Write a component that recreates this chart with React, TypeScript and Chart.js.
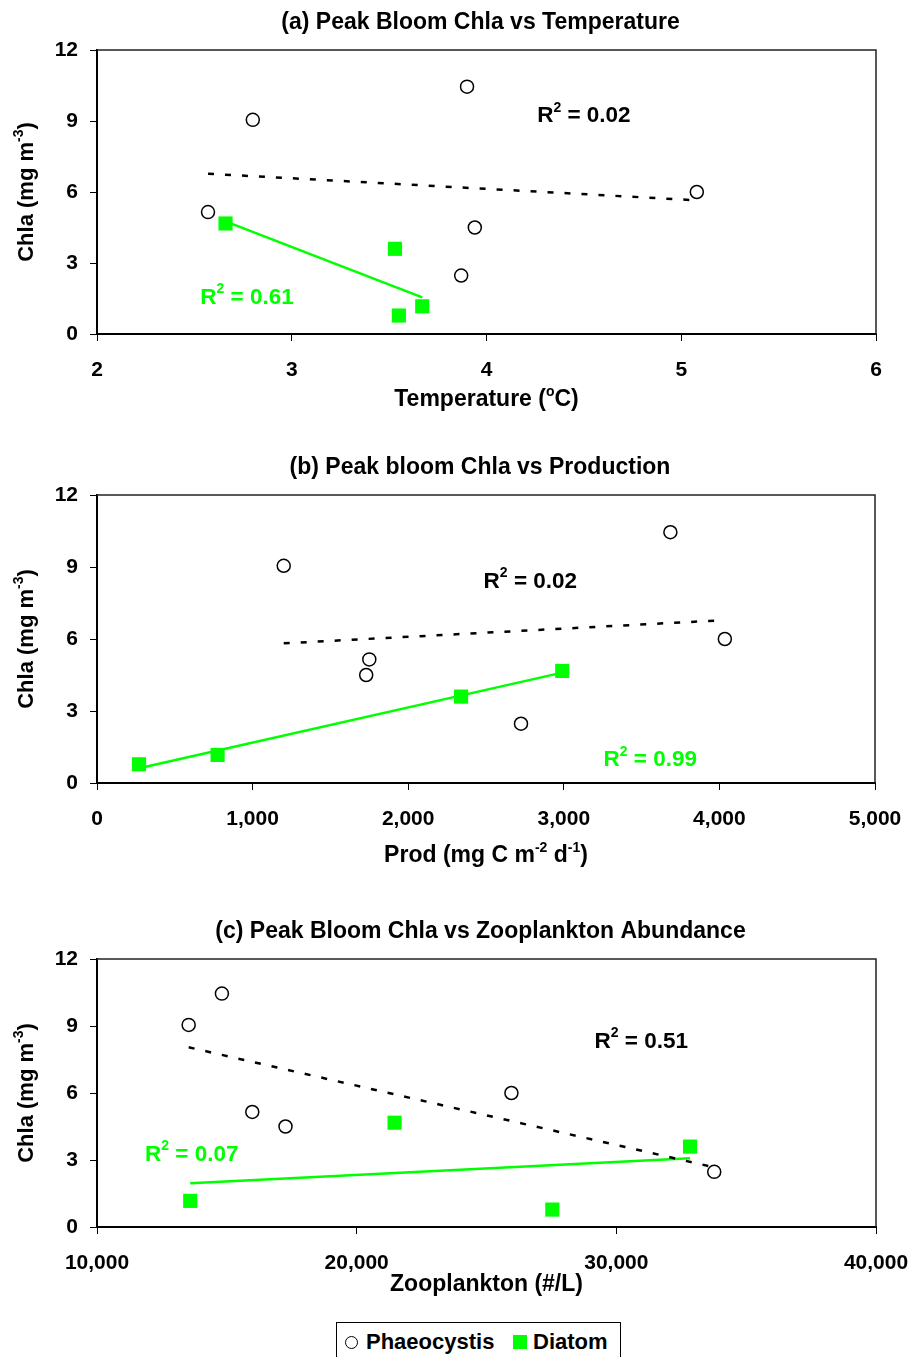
import React, { useEffect, useRef } from 'react';
import { Chart, registerables } from 'chart.js';
Chart.register(...registerables);

// ---------- data ----------
const phaeoChla = [9.05, 10.45, 5.15, 6.0, 4.5, 2.47];
const phaeoTemp = [2.8, 3.9, 2.57, 5.08, 3.94, 3.87];
const phaeoProd = [1200, 3685, 1750, 4035, 1730, 2725];
const phaeoZoo = [13530, 14810, 15980, 25960, 17260, 33770];

const diatomChla = [4.67, 3.6, 0.78, 1.17];
const diatomTemp = [2.66, 3.53, 3.55, 3.67];
const diatomProd = [2990, 2340, 270, 775];
const diatomZoo = [21460, 32840, 27535, 13590];

const yTicks = [0, 3, 6, 9, 12];
const tempTicks = [2, 3, 4, 5, 6];
const prodTicks = [0, 1000, 2000, 3000, 4000, 5000];
const zooTicks = [10000, 20000, 30000, 40000];

const r2Phaeo = ['0.02', '0.02', '0.51'];
const r2Diatom = ['0.61', '0.99', '0.07'];

const titles = [
  '(a) Peak Bloom Chla vs Temperature',
  '(b) Peak bloom Chla vs Production',
  '(c) Peak Bloom Chla vs Zooplankton Abundance',
];

// ---------- styling ----------
const FAM = '"Liberation Sans", Arial, Helvetica, sans-serif';
const GREEN = '#00FF00';

type Seg = { t: string; sup?: boolean };

function linReg(xs: number[], ys: number[]) {
  const n = xs.length;
  const mx = xs.reduce((a, b) => a + b, 0) / n;
  const my = ys.reduce((a, b) => a + b, 0) / n;
  let sxy = 0, sxx = 0;
  for (let i = 0; i < n; i++) {
    sxy += (xs[i] - mx) * (ys[i] - my);
    sxx += (xs[i] - mx) * (xs[i] - mx);
  }
  const m = sxy / sxx;
  const b = my - m * mx;
  const x0 = Math.min(...xs), x1 = Math.max(...xs);
  return [{ x: x0, y: m * x0 + b }, { x: x1, y: m * x1 + b }];
}

function drawRich(ctx: CanvasRenderingContext2D, segs: Seg[], cx: number, cy: number, size: number, color: string, rotate = false) {
  const supSize = Math.round(size * 0.62);
  const widths = segs.map((s) => {
    ctx.font = `bold ${s.sup ? supSize : size}px ${FAM}`;
    return ctx.measureText(s.t).width;
  });
  const total = widths.reduce((a, b) => a + b, 0);
  ctx.save();
  ctx.translate(cx, cy);
  if (rotate) ctx.rotate(-Math.PI / 2);
  ctx.textBaseline = 'middle';
  ctx.textAlign = 'left';
  ctx.fillStyle = color;
  let x = -total / 2;
  segs.forEach((s, i) => {
    ctx.font = `bold ${s.sup ? supSize : size}px ${FAM}`;
    ctx.fillText(s.t, x, s.sup ? -size * 0.36 : 0);
    x += widths[i];
  });
  ctx.restore();
}

type Panel = {
  top: number;
  height: number;
  plotTop: number;
  plotBottom: number;
  padRight: number;
  titleY: number;
  xTitleY: number;
  title: string;
  xTitle: Seg[];
  xPhaeo: number[];
  xDiatom: number[];
  xTicks: number[];
  r2P: string;
  r2D: string;
  r2PPos: [number, number];
  r2DPos: [number, number];
};

const panels: Panel[] = [
  {
    top: 0, height: 440, plotTop: 50, plotBottom: 334, padRight: 36, titleY: 23, xTitleY: 400,
    title: titles[0],
    xTitle: [{ t: 'Temperature (' }, { t: 'o', sup: true }, { t: 'C)' }],
    xPhaeo: phaeoTemp, xDiatom: diatomTemp, xTicks: tempTicks,
    r2P: r2Phaeo[0], r2D: r2Diatom[0], r2PPos: [4.5, 9.2], r2DPos: [2.77, 1.55],
  },
  {
    top: 440, height: 460, plotTop: 55, plotBottom: 343, padRight: 37, titleY: 28, xTitleY: 416,
    title: titles[1],
    xTitle: [{ t: 'Prod (mg C m' }, { t: '-2', sup: true }, { t: ' d' }, { t: '-1', sup: true }, { t: ')' }],
    xPhaeo: phaeoProd, xDiatom: diatomProd, xTicks: prodTicks,
    r2P: r2Phaeo[1], r2D: r2Diatom[1], r2PPos: [2785, 8.4], r2DPos: [3556, 0.95],
  },
  {
    top: 900, height: 400, plotTop: 59, plotBottom: 327, padRight: 36, titleY: 32, xTitleY: 385,
    title: titles[2],
    xTitle: [{ t: 'Zooplankton (#/L)' }],
    xPhaeo: phaeoZoo, xDiatom: diatomZoo, xTicks: zooTicks,
    r2P: r2Phaeo[2], r2D: r2Diatom[2], r2PPos: [30960, 8.3], r2DPos: [13650, 3.25],
  },
];

function PanelChart({ p }: { p: Panel }) {
  const ref = useRef<HTMLCanvasElement | null>(null);
  useEffect(() => {
    const canvas = ref.current!;
    const tickFont = { family: FAM, size: 21, weight: 'bold' as const };
    const overlay = {
      id: 'overlay',
      afterDraw(chart: any) {
        const ctx = chart.ctx as CanvasRenderingContext2D;
        const a = chart.chartArea;
        // top/right frame
        ctx.save();
        ctx.strokeStyle = '#222';
        ctx.lineWidth = 1.5;
        ctx.beginPath();
        ctx.moveTo(a.left, a.top);
        ctx.lineTo(a.right, a.top);
        ctx.lineTo(a.right, a.bottom);
        ctx.stroke();
        ctx.restore();
        const cx = (a.left + a.right) / 2;
        // title
        drawRich(ctx, [{ t: p.title }], cx - 6, p.titleY, 23, '#000');
        // x title
        drawRich(ctx, p.xTitle, cx, p.xTitleY, 23, '#000');
        // y title
        drawRich(ctx, [{ t: 'Chla (mg m' }, { t: '-3', sup: true }, { t: ')' }], 27, (a.top + a.bottom) / 2, 22, '#000', true);
        // R² labels
        const xs = chart.scales.x, ys = chart.scales.y;
        drawRich(ctx, [{ t: 'R' }, { t: '2', sup: true }, { t: ' = ' + p.r2P }],
          xs.getPixelForValue(p.r2PPos[0]), ys.getPixelForValue(p.r2PPos[1]), 22.5, '#000');
        drawRich(ctx, [{ t: 'R' }, { t: '2', sup: true }, { t: ' = ' + p.r2D }],
          xs.getPixelForValue(p.r2DPos[0]), ys.getPixelForValue(p.r2DPos[1]), 22.5, GREEN);
      },
    };
    const chart = new Chart(canvas, {
      type: 'scatter',
      data: {
        datasets: [
          {
            label: 'Phaeocystis trend',
            data: linReg(p.xPhaeo, phaeoChla),
            showLine: true,
            pointRadius: 0,
            borderColor: '#000',
            borderWidth: 2.5,
            borderDash: [6, 11],
            borderCapStyle: 'butt',
            order: 0,
          },
          {
            label: 'Diatom trend',
            data: linReg(p.xDiatom, diatomChla),
            showLine: true,
            pointRadius: 0,
            borderColor: GREEN,
            borderWidth: 2.5,
            order: 0,
          },
          {
            label: 'Phaeocystis',
            data: p.xPhaeo.map((x, i) => ({ x, y: phaeoChla[i] })),
            pointStyle: 'circle',
            pointRadius: 6.5,
            pointBackgroundColor: '#fff',
            pointBorderColor: '#000',
            pointBorderWidth: 1.5,
            order: 1,
          },
          {
            label: 'Diatom',
            data: p.xDiatom.map((x, i) => ({ x, y: diatomChla[i] })),
            pointStyle: 'rect',
            pointRadius: 10,
            pointBackgroundColor: GREEN,
            pointBorderColor: GREEN,
            pointBorderWidth: 0,
            order: 1,
          },
        ],
      },
      options: {
        responsive: false,
        animation: false,
        events: [],
        layout: { padding: { left: 0, right: p.padRight, top: p.plotTop, bottom: 0 } },
        plugins: { legend: { display: false }, tooltip: { enabled: false }, title: { display: false } },
        scales: {
          x: {
            type: 'linear',
            min: p.xTicks[0],
            max: p.xTicks[p.xTicks.length - 1],
            afterFit: (s: any) => {
              s.height = p.height - p.plotBottom;
              s.paddingLeft = 0;
              s.paddingRight = 0;
            },
            afterBuildTicks: (s: any) => { s.ticks = p.xTicks.map((v) => ({ value: v })); },
            grid: { display: true, drawOnChartArea: false, drawTicks: true, tickLength: 7, color: '#000', lineWidth: 1 },
            border: { display: true, color: '#000', width: 2 },
            ticks: {
              font: tickFont, color: '#000', padding: 17, maxRotation: 0, autoSkip: false,
              callback: (v: any) => Number(v).toLocaleString('en-US'),
            },
          },
          y: {
            type: 'linear',
            min: yTicks[0],
            max: yTicks[yTicks.length - 1],
            afterFit: (s: any) => {
              s.width = 97;
              s.paddingTop = 0;
              s.paddingBottom = 0;
            },
            afterBuildTicks: (s: any) => { s.ticks = yTicks.map((v) => ({ value: v })); },
            grid: { display: true, drawOnChartArea: false, drawTicks: true, tickLength: 7, color: '#000', lineWidth: 1 },
            border: { display: true, color: '#000', width: 2 },
            ticks: { font: tickFont, color: '#000', padding: 12 },
          },
        },
      },
      plugins: [overlay],
    } as any);
    return () => chart.destroy();
  }, [p]);
  return (
    <canvas
      ref={ref}
      width={912}
      height={p.height}
      style={{ position: 'absolute', left: 0, top: p.top, width: 912, height: p.height, display: 'block' }}
    />
  );
}

export default function App() {
  const txt: React.CSSProperties = {
    position: 'absolute', top: 1329, height: 25, lineHeight: '25px',
    fontFamily: FAM, fontWeight: 'bold', fontSize: 22, color: '#000', whiteSpace: 'nowrap',
  };
  return (
    <div style={{ position: 'absolute', left: 0, top: 0, width: 912, height: 1357, overflow: 'hidden', background: '#fff' }}>
      {panels.map((p, i) => <PanelChart key={i} p={p} />)}
      <div style={{ position: 'absolute', left: 336, top: 1322, width: 285, height: 50, border: '1px solid #000', boxSizing: 'border-box' }} />
      <div style={{ position: 'absolute', left: 345, top: 1336, width: 13, height: 13, border: '1.5px solid #000', borderRadius: '50%', boxSizing: 'border-box', background: '#fff' }} />
      <div style={{ ...txt, left: 366 }}>Phaeocystis</div>
      <div style={{ position: 'absolute', left: 513, top: 1335, width: 14, height: 14, background: GREEN }} />
      <div style={{ ...txt, left: 533 }}>Diatom</div>
    </div>
  );
}
